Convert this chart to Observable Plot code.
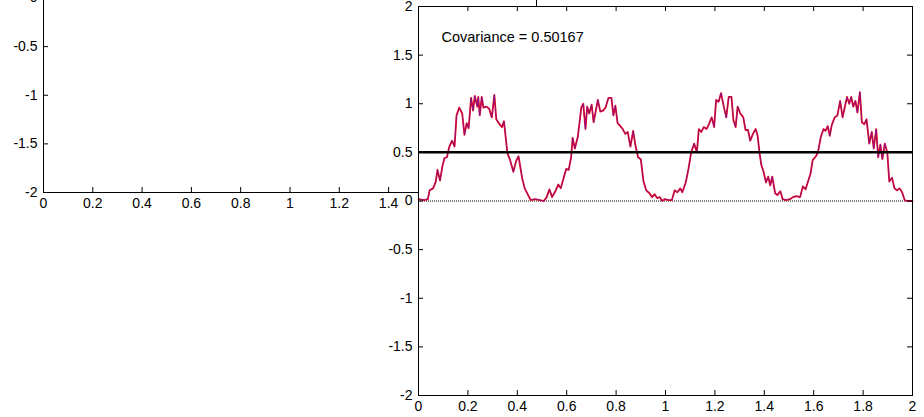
<!DOCTYPE html>
<html><head><meta charset="utf-8">
<script src="https://cdn.jsdelivr.net/npm/d3@7"></script>
<script src="https://cdn.jsdelivr.net/npm/@observablehq/plot@0.6"></script>
<style>
html,body{margin:0;padding:0;background:#fff;}
#wrap{position:relative;width:924px;height:417px;overflow:hidden;background:#fff}
#wrap svg{position:absolute;overflow:visible;max-width:none}
</style></head><body><div id="wrap"></div>
<script>
// time samples (s)
const tValues = [0,0.024,0.038,0.045,0.059,0.070,0.077,0.087,0.097,0.105,0.115,0.125,0.136,0.146,0.154,0.165,0.177,0.186,0.195,0.203,0.213,0.221,0.228,0.238,0.242,0.248,0.256,0.263,0.275,0.286,0.297,0.307,0.315,0.328,0.338,0.346,0.360,0.371,0.384,0.395,0.405,0.420,0.430,0.444,0.454,0.472,0.491,0.507,0.519,0.530,0.541,0.554,0.566,0.576,0.589,0.598,0.608,0.618,0.624,0.633,0.645,0.659,0.667,0.676,0.683,0.691,0.701,0.709,0.718,0.726,0.736,0.747,0.757,0.769,0.781,0.789,0.797,0.806,0.817,0.827,0.837,0.847,0.858,0.869,0.879,0.889,0.900,0.911,0.922,0.935,0.946,0.956,0.966,0.977,0.987,0.998,1.012,1.026,1.037,1.048,1.060,1.068,1.082,1.093,1.104,1.116,1.127,1.135,1.145,1.155,1.166,1.176,1.187,1.197,1.205,1.215,1.225,1.236,1.246,1.256,1.267,1.275,1.284,1.292,1.303,1.315,1.324,1.334,1.343,1.354,1.365,1.373,1.381,1.388,1.397,1.407,1.416,1.424,1.432,1.444,1.453,1.465,1.474,1.488,1.505,1.516,1.530,1.545,1.556,1.567,1.577,1.587,1.596,1.609,1.617,1.629,1.640,1.648,1.657,1.665,1.673,1.685,1.696,1.707,1.717,1.727,1.735,1.744,1.752,1.760,1.769,1.777,1.787,1.795,1.805,1.814,1.825,1.835,1.843,1.853,1.861,1.870,1.878,1.888,1.898,1.906,1.917,1.927,1.937,1.948,1.958,1.968,1.979,2.0];
// product signal (red)
const productRed = [0.02,0.01,0.02,0.11,0.13,0.20,0.32,0.21,0.36,0.44,0.45,0.56,0.62,0.56,0.88,0.96,0.90,0.68,0.80,0.75,1.06,0.93,1.08,0.97,1.07,0.88,1.07,0.96,0.97,0.95,0.86,1.09,0.84,0.79,0.76,0.82,0.49,0.42,0.30,0.41,0.46,0.23,0.13,0.06,0.01,0.02,0.01,0.00,0.04,0.12,0.04,0.10,0.17,0.13,0.25,0.33,0.32,0.45,0.65,0.54,0.66,0.96,1.00,0.74,0.97,0.90,0.99,0.81,0.93,1.04,0.92,0.93,0.96,1.06,1.06,0.88,0.98,0.80,0.77,0.74,0.69,0.71,0.56,0.72,0.56,0.45,0.43,0.20,0.11,0.08,0.04,0.07,0.03,0.04,0.00,0.02,0.01,0.01,0.11,0.09,0.13,0.09,0.19,0.33,0.50,0.59,0.50,0.74,0.71,0.76,0.74,0.79,0.86,0.76,1.04,1.02,1.11,0.97,0.86,1.07,1.07,0.83,0.76,0.97,0.90,0.86,0.73,0.73,0.62,0.69,0.74,0.67,0.49,0.37,0.30,0.19,0.25,0.16,0.25,0.08,0.06,0.10,0.02,0.01,0.02,0.04,0.05,0.04,0.15,0.12,0.20,0.28,0.42,0.46,0.50,0.66,0.74,0.72,0.77,0.67,0.78,0.86,0.88,1.03,0.86,0.98,1.07,1.00,1.07,0.97,1.03,0.91,1.12,0.81,0.79,0.84,0.59,0.71,0.54,0.74,0.45,0.58,0.43,0.59,0.50,0.20,0.24,0.13,0.11,0.13,0.09,0.01,0.00,0.00];
// second (blue) trace, read as overlapping the red one
const productBlue = productRed.slice();
const covariance = 0.50167;
const annotationText = "Covariance = 0.50167";
const xTicks = [0,0.2,0.4,0.6,0.8,1,1.2,1.4,1.6,1.8,2];
const yTicks = [-2,-1.5,-1,-0.5,0,0.5,1,1.5,2];

const data = tValues.map((t,i)=>({t, red: productRed[i], blue: productBlue[i]}));
const fmt = d => String(d);
const FONT = "'Liberation Sans', Arial, Helvetica, sans-serif";

function matlabAxes(pw, ph) {
  return [
    Plot.axisX({ticks: xTicks, tickSize: 0, tickPadding: 6, tickFormat: fmt, label: null}),
    Plot.axisY({ticks: yTicks, tickSize: 0, tickPadding: 6, tickFormat: fmt, label: null}),
    Plot.ruleX(xTicks, {x: d=>d, insetTop: ph-5, stroke: "black"}),
    Plot.ruleX(xTicks, {x: d=>d, insetBottom: ph-5, stroke: "black"}),
    Plot.ruleY(yTicks, {y: d=>d, insetRight: pw-5, stroke: "black"}),
    Plot.ruleY(yTicks, {y: d=>d, insetLeft: pw-5, stroke: "black"}),
    Plot.frame({stroke: "black"})
  ];
}

const style = {fontSize: "14px", fontFamily: FONT, color: "black", background: "none", overflow: "visible"};

// left (partially hidden) axes
const L = {ml: 43, mr: 10, mt: 10, mb: 25, pw: 493, ph: 389};
const left = Plot.plot({
  width: L.ml + L.pw + L.mr, height: L.mt + L.ph + L.mb,
  marginLeft: L.ml, marginRight: L.mr, marginTop: L.mt, marginBottom: L.mb,
  x: {domain: [0,2], label: null}, y: {domain: [-2,2], label: null},
  style,
  marks: [
    Plot.frame({fill: "white", stroke: null}),
    ...matlabAxes(L.pw, L.ph)
  ]
});
left.style.left = "0px"; left.style.top = "-207px";

// right axes (on top)
const R = {ml: 418, mr: 12, mt: 6, mb: 22, pw: 494, ph: 389};
const right = Plot.plot({
  width: 924, height: 417,
  marginLeft: R.ml, marginRight: R.mr, marginTop: R.mt, marginBottom: R.mb,
  x: {domain: [0,2], label: null}, y: {domain: [-2,2], label: null},
  style,
  marks: [
    Plot.frame({fill: "white", stroke: null}),
    Plot.ruleY([0], {stroke: "black", strokeWidth: 1, strokeDasharray: "1,1"}),
    Plot.line(data, {x: "t", y: "red", stroke: "#ff0000", strokeWidth: 1.8}),
    Plot.line(data, {x: "t", y: "blue", stroke: "#2020ff", strokeWidth: 0.9, strokeOpacity: 0.55}),
    Plot.ruleY([covariance], {stroke: "black", strokeWidth: 2.5}),
    Plot.text([annotationText], {x: () => 0.093, y: () => 1.68, text: d => d, textAnchor: "start", fontSize: 14.5, fill: "black"}),
    ...matlabAxes(R.pw, R.ph)
  ]
});
right.style.left = "0px"; right.style.top = "0px";

const wrap = document.getElementById("wrap");
wrap.appendChild(left);
wrap.appendChild(right);
</script></body></html>
